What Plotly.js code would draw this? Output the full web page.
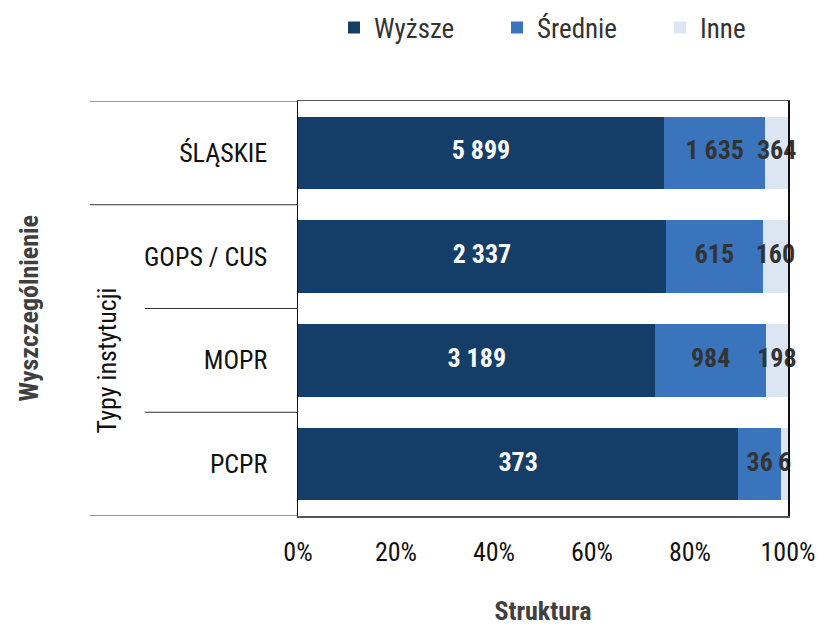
<!DOCTYPE html>
<html>
<head>
<meta charset="utf-8">
<script src="https://cdn.plot.ly/plotly-3.0.1.min.js"></script>
<style>html,body{margin:0;padding:0;background:#fff;}#chart{width:819px;height:626px;}</style>
</head>
<body>
<div id="chart"></div>
<script>
const categories = ["ŚLĄSKIE", "GOPS / CUS", "MOPR", "PCPR"];
const seriesNames = ["Wyższe", "Średnie", "Inne"];
const wyzsze = [5899, 2337, 3189, 373];
const srednie = [1635, 615, 984, 36];
const inne = [364, 160, 198, 6];
const groupLabel = "Typy instytucji";
const groupMembers = ["GOPS / CUS", "MOPR", "PCPR"];
const xTickVals = [0, 20, 40, 60, 80, 100];
const xTickText = ["0%", "20%", "40%", "60%", "80%", "100%"];
const yTitle = "Wyszczególnienie";
const xTitle = "Struktura";

const FONT = "'Roboto Condensed', Roboto, 'Liberation Sans', sans-serif";
const F = (size, color, weight) => ({family: FONT, size: size, color: color, weight: weight || "normal", stretch: "condensed"});
const totals = categories.map((c, i) => wyzsze[i] + srednie[i] + inne[i]);
const pct = arr => arr.map((v, i) => v / totals[i] * 100);
const fmt = v => String(v).replace(/\B(?=(\d{3})+(?!\d))/g, "\u00a0");

const series = [wyzsze, srednie, inne];
const colors = ["#143d68", "#3a74bd", "#dce6f2"];
const textColors = ["#ffffff", "#333333", "#333333"];

const traces = series.map((arr, k) => ({
  type: "bar",
  orientation: "h",
  name: seriesNames[k],
  y: categories,
  x: pct(arr),
  marker: {color: colors[k], line: {width: 0}},
  hoverinfo: "none"
}));

// value labels centred on each segment
const cum = categories.map(() => 0);
series.forEach((arr, k) => {
  const p = pct(arr);
  const mids = p.map((v, i) => cum[i] + v / 2);
  p.forEach((v, i) => { cum[i] += v; });
  traces.push({
    type: "scatter", mode: "text", showlegend: false, hoverinfo: "none",
    y: categories, x: mids, text: arr.map(fmt), textposition: "middle center",
    cliponaxis: false,
    textfont: F(26, textColors[k], "bold")
  });
});

const shapes = [];
const L1 = (90 - 298) / 490, L2 = (145 - 298) / 490;
const lineStyle = {color: "#333333", width: 1.2};
[-0.5, 0.5, 3.5].forEach(y => shapes.push({type: "line", xref: "paper", yref: "y", x0: L1, x1: 0, y0: y, y1: y, line: lineStyle}));
[1.5, 2.5].forEach(y => shapes.push({type: "line", xref: "paper", yref: "y", x0: L2, x1: 0, y0: y, y1: y, line: lineStyle}));

const groupCenter = groupMembers.map(m => categories.indexOf(m)).reduce((a, b) => a + b, 0) / groupMembers.length;

const layout = {
  width: 819, height: 626,
  margin: {l: 298, r: 31, t: 101, b: 110},
  paper_bgcolor: "#ffffff", plot_bgcolor: "#ffffff",
  barmode: "stack",
  bargap: 0.3,
  showlegend: true,
  font: F(26, "#000"),
  legend: {
    orientation: "h", xref: "container", yref: "container",
    x: 334 / 819, xanchor: "left", y: 1 - 28 / 626, yanchor: "middle",
    entrywidth: 118, font: F(27, "#333"),
    itemwidth: 30, traceorder: "normal", bgcolor: "rgba(0,0,0,0)"
  },
  xaxis: {
    range: [0, 100.001], tickvals: xTickVals, ticktext: xTickText,
    showgrid: false, zeroline: false,
    showline: true, linecolor: "#555", linewidth: 1.5, mirror: true,
    ticks: "", ticklabelstandoff: 12, ticklabeloverflow: "allow",
    tickfont: F(26, "#111"),
    title: {text: xTitle, font: F(26, "#404040", "bold"), standoff: 49},
    fixedrange: true
  },
  yaxis: {
    type: "category", autorange: false, range: [3.5, -0.5],
    showgrid: false, zeroline: false,
    showline: true, linecolor: "#111", linewidth: 1.5, mirror: true,
    ticks: "", ticklabelstandoff: 24,
    tickfont: F(26, "#111"),
    fixedrange: true
  },
  shapes: shapes,
  annotations: [
    {xref: "paper", yref: "y", x: (107 - 298) / 490, y: groupCenter, text: groupLabel, showarrow: false,
     textangle: -90, xanchor: "center", yanchor: "middle", font: F(26, "#111")},
    {xref: "paper", yref: "paper", x: (28 - 298) / 490, y: 0.5, text: yTitle, showarrow: false,
     textangle: -90, xanchor: "center", yanchor: "middle", font: F(26, "#404040", "bold")}
  ]
};

Plotly.newPlot("chart", traces, layout, {displayModeBar: false, staticPlot: true});
</script>
</body>
</html>
